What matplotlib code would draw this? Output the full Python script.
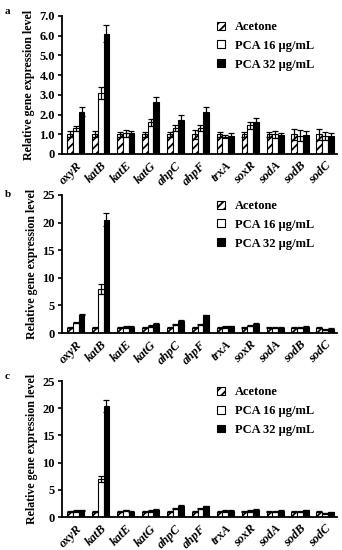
import matplotlib
matplotlib.use("Agg")
import matplotlib.pyplot as plt
import numpy as np

genes = ["oxyR", "katB", "katE", "katG", "ahpC", "ahpF", "trxA", "soxR", "sodA", "sodB", "sodC"]
series_names = ["Acetone", "PCA 16 μg/mL", "PCA 32 μg/mL"]

# Panel a
a_acetone = [1.0, 1.0, 1.0, 1.0, 1.0, 1.0, 1.0, 1.0, 1.0, 1.0, 1.0]
a_pca16 = [1.3, 3.1, 1.05, 1.6, 1.3, 1.3, 0.88, 1.45, 1.0, 0.92, 0.92]
a_pca32 = [2.15, 6.1, 1.05, 2.65, 1.7, 2.15, 0.93, 1.62, 0.95, 0.95, 0.93]
a_acetone_err = [0.15, 0.15, 0.12, 0.12, 0.12, 0.22, 0.12, 0.12, 0.12, 0.28, 0.28]
a_pca16_err = [0.12, 0.3, 0.18, 0.2, 0.15, 0.15, 0.08, 0.18, 0.18, 0.28, 0.2]
a_pca32_err = [0.22, 0.42, 0.12, 0.25, 0.28, 0.22, 0.12, 0.2, 0.12, 0.2, 0.12]

# Panel b
b_acetone = [1.0, 1.0, 1.0, 1.0, 1.0, 1.0, 1.0, 1.0, 1.0, 1.0, 1.0]
b_pca16 = [1.9, 8.0, 1.1, 1.3, 1.5, 1.5, 1.1, 1.3, 1.0, 1.0, 0.6]
b_pca32 = [3.3, 20.5, 1.1, 1.6, 2.2, 3.2, 1.2, 1.7, 1.0, 1.1, 0.8]
b_acetone_err = [0.1, 0.1, 0.1, 0.1, 0.1, 0.1, 0.1, 0.1, 0.1, 0.1, 0.1]
b_pca16_err = [0.1, 0.9, 0.1, 0.2, 0.1, 0.1, 0.1, 0.1, 0.1, 0.1, 0.1]
b_pca32_err = [0.1, 1.2, 0.1, 0.2, 0.1, 0.1, 0.1, 0.2, 0.1, 0.1, 0.1]

# Panel c
c_acetone = [1.0, 1.0, 1.0, 1.0, 1.0, 1.0, 1.0, 1.0, 1.0, 1.0, 1.0]
c_pca16 = [1.1, 7.0, 1.2, 1.1, 1.5, 1.5, 1.1, 1.1, 1.0, 1.0, 0.7]
c_pca32 = [1.2, 20.4, 1.0, 1.3, 2.1, 2.0, 1.1, 1.3, 1.1, 1.2, 0.9]
c_acetone_err = [0.1, 0.1, 0.1, 0.1, 0.1, 0.1, 0.1, 0.1, 0.1, 0.1, 0.1]
c_pca16_err = [0.1, 0.5, 0.1, 0.1, 0.1, 0.1, 0.1, 0.1, 0.1, 0.1, 0.1]
c_pca32_err = [0.1, 1.1, 0.1, 0.1, 0.1, 0.1, 0.1, 0.1, 0.1, 0.1, 0.1]

panels = [
    ("a", [a_acetone, a_pca16, a_pca32], [a_acetone_err, a_pca16_err, a_pca32_err],
     [0, 1, 2, 3, 4, 5, 6, 7], ["0", "1.0", "2.0", "3.0", "4.0", "5.0", "6.0", "7.0"], 7.0),
    ("b", [b_acetone, b_pca16, b_pca32], [b_acetone_err, b_pca16_err, b_pca32_err],
     [0, 5, 10, 15, 20, 25], ["0", "5", "10", "15", "20", "25"], 25),
    ("c", [c_acetone, c_pca16, c_pca32], [c_acetone_err, c_pca16_err, c_pca32_err],
     [0, 5, 10, 15, 20, 25], ["0", "5", "10", "15", "20", "25"], 25),
]

plt.rcParams['font.family'] = ['Liberation Serif', 'DejaVu Serif']
plt.rcParams['font.weight'] = 'bold'
plt.rcParams['hatch.linewidth'] = 1.3

fig = plt.figure(figsize=(3.42, 5.5), dpi=100)
boxes = [(0.181, 0.720, 0.804, 0.251), (0.181, 0.3945, 0.804, 0.251), (0.181, 0.060, 0.804, 0.247)]
letter_pos = [(5, 7), (5, 190), (5, 372)]

x = np.arange(len(genes))
w = 0.23
offsets = [-w, 0, w]
faces = ["white", "white", "black"]
hatches = ["////", None, None]

for (letter, vals, errs, yt, ytl, ymax), box, lp in zip(panels, boxes, letter_pos):
    ax = fig.add_axes(box)
    for i in range(3):
        ax.bar(x + offsets[i], vals[i], width=w, color=faces[i], edgecolor="black",
               linewidth=0.8, hatch=hatches[i], label=series_names[i],
               yerr=errs[i], error_kw=dict(ecolor="black", elinewidth=0.9, capsize=2, capthick=0.9),
               zorder=2)
    ax.set_xlim(-0.56, 10.48)
    ax.set_ylim(0, ymax)
    ax.set_yticks(yt)
    ax.set_yticklabels(ytl, fontsize=9, fontweight="bold")
    ax.set_xticks(x)
    ax.set_xticklabels(genes, rotation=45, ha="right", rotation_mode="anchor",
                       fontsize=9, fontweight="bold", fontstyle="italic")
    ax.tick_params(axis="x", length=0, pad=4)
    ax.tick_params(axis="y", length=3, width=1.2, direction="out", pad=2)
    for s in ["top", "right"]:
        ax.spines[s].set_visible(False)
    for s in ["left", "bottom"]:
        ax.spines[s].set_linewidth(1.3)
    ax.set_ylabel("Relative gene expression level", fontsize=8.6, fontweight="bold", labelpad=3)
    ax.legend(loc="upper right", bbox_to_anchor=(0.935, 1.0), frameon=False,
              borderaxespad=0.0, prop=dict(size=9, weight="bold"),
              handlelength=0.6, handleheight=0.6, handletextpad=0.8, labelspacing=0.55)
    fig.text(lp[0] / 342, 1 - lp[1] / 550, letter, fontsize=8, fontweight="bold",
             va="top", ha="left")

fig.savefig("out.png", dpi=100)
